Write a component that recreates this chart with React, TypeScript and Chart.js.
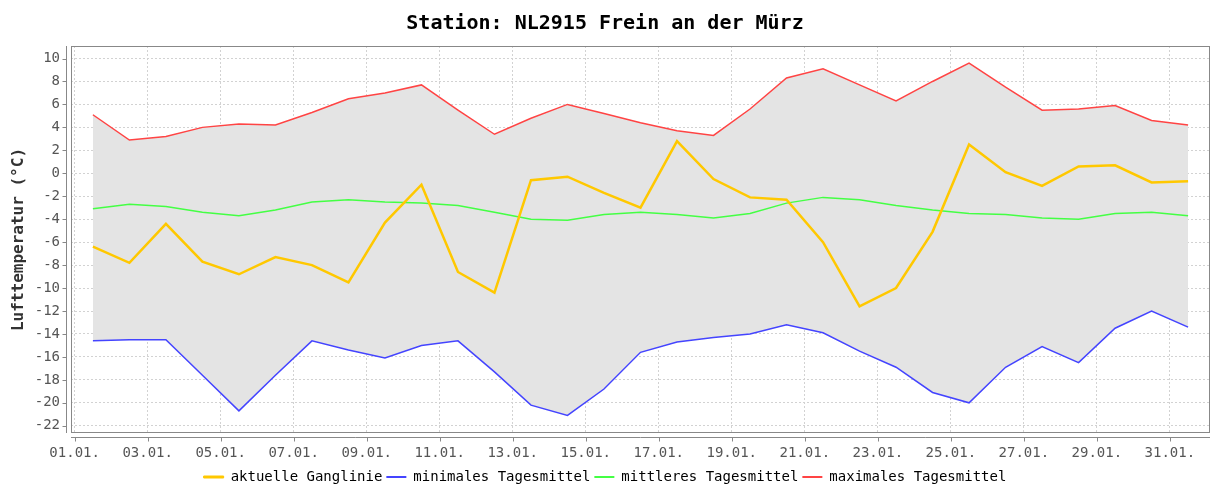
import React, { useEffect, useRef } from 'react';
import { Chart, registerables } from 'chart.js';

Chart.register(...registerables);

const days = [
  '01.01.', '02.01.', '03.01.', '04.01.', '05.01.', '06.01.', '07.01.', '08.01.', '09.01.', '10.01.',
  '11.01.', '12.01.', '13.01.', '14.01.', '15.01.', '16.01.', '17.01.', '18.01.', '19.01.', '20.01.',
  '21.01.', '22.01.', '23.01.', '24.01.', '25.01.', '26.01.', '27.01.', '28.01.', '29.01.', '30.01.', '31.01.',
];
const xTickLabels = ['01.01.', '03.01.', '05.01.', '07.01.', '09.01.', '11.01.', '13.01.', '15.01.', '17.01.', '19.01.', '21.01.', '23.01.', '25.01.', '27.01.', '29.01.', '31.01.'];
const yTicks = [-22, -20, -18, -16, -14, -12, -10, -8, -6, -4, -2, 0, 2, 4, 6, 8, 10];

const aktuelle = [-6.4, -7.8, -4.4, -7.7, -8.8, -7.3, -8.0, -9.5, -4.3, -1.0, -8.6, -10.4, -0.6, -0.3, -1.7, -3.0, 2.8, -0.5, -2.1, -2.3, -6.0, -11.6, -10.0, -5.1, 2.5, 0.1, -1.1, 0.6, 0.7, -0.8, -0.7];
const minimal = [-14.6, -14.5, -14.5, -17.6, -20.7, -17.6, -14.6, -15.4, -16.1, -15.0, -14.6, -17.3, -20.2, -21.1, -18.8, -15.6, -14.7, -14.3, -14.0, -13.2, -13.9, -15.5, -16.9, -19.1, -20.0, -16.9, -15.1, -16.5, -13.5, -12.0, -13.4];
const mittleres = [-3.1, -2.7, -2.9, -3.4, -3.7, -3.2, -2.5, -2.3, -2.5, -2.6, -2.8, -3.4, -4.0, -4.1, -3.6, -3.4, -3.6, -3.9, -3.5, -2.6, -2.1, -2.3, -2.8, -3.2, -3.5, -3.6, -3.9, -4.0, -3.5, -3.4, -3.7];
const maximal = [5.1, 2.9, 3.2, 4.0, 4.3, 4.2, 5.3, 6.5, 7.0, 7.7, 5.5, 3.4, 4.8, 6.0, 5.2, 4.4, 3.7, 3.3, 5.6, 8.3, 9.1, 7.7, 6.3, 8.0, 9.6, 7.5, 5.5, 5.6, 5.9, 4.6, 4.2];

const seriesNames = ['aktuelle Ganglinie', 'minimales Tagesmittel', 'mittleres Tagesmittel', 'maximales Tagesmittel'];
const seriesColors = ['#ffc800', '#4444ff', '#44ff44', '#ff4444'];

const MONO = "'DejaVu Sans Mono', monospace";

const toPoints = (vals: number[]) => vals.map((v, i) => ({ x: days.indexOf(days[i]) + 0.5, y: v }));

const framePlugin = {
  id: 'frame',
  afterDraw(chart: any) {
    const { ctx, chartArea } = chart;
    const { left, right, top, bottom } = chartArea;
    ctx.save();
    ctx.strokeStyle = '#888888';
    ctx.lineWidth = 1;
    ctx.setLineDash([]);
    ctx.strokeRect(left + 0.5, top + 0.5, right - left - 1, bottom - top - 1);
    const ax = left - 5 + 0.5;
    ctx.beginPath();
    ctx.moveTo(ax, top);
    ctx.lineTo(ax, bottom);
    ctx.stroke();
    const ay = bottom + 5 - 0.5;
    ctx.beginPath();
    ctx.moveTo(left, ay);
    ctx.lineTo(right, ay);
    ctx.stroke();
    const ys = chart.scales.y;
    ys.ticks.forEach((t: any) => {
      const py = Math.round(ys.getPixelForValue(t.value)) + 0.5;
      ctx.beginPath();
      ctx.moveTo(ax - 4, py);
      ctx.lineTo(ax, py);
      ctx.stroke();
    });
    const xs = chart.scales.x;
    xs.ticks.forEach((t: any) => {
      const px = Math.round(xs.getPixelForValue(t.value)) + 0.5;
      ctx.beginPath();
      ctx.moveTo(px, ay);
      ctx.lineTo(px, ay + 4);
      ctx.stroke();
    });
    ctx.restore();
  },
};

export default function App() {
  const ref = useRef<HTMLCanvasElement | null>(null);

  useEffect(() => {
    document.body.style.margin = '0';
    const canvas = ref.current;
    if (!canvas) return;
    const chart = new Chart(canvas, {
      type: 'line',
      data: {
        datasets: [
          { label: seriesNames[0], data: toPoints(aktuelle), borderColor: seriesColors[0], backgroundColor: seriesColors[0], borderWidth: 2.5, fill: false },
          { label: seriesNames[1], data: toPoints(minimal), borderColor: seriesColors[1], backgroundColor: seriesColors[1], borderWidth: 1.5, fill: false },
          { label: seriesNames[2], data: toPoints(mittleres), borderColor: seriesColors[2], backgroundColor: seriesColors[2], borderWidth: 1.5, fill: false },
          { label: seriesNames[3], data: toPoints(maximal), borderColor: seriesColors[3], backgroundColor: '#e4e4e4', borderWidth: 1.5, fill: { target: 1 } },
        ],
      },
      options: {
        responsive: false,
        animation: false,
        devicePixelRatio: 1,
        parsing: false,
        normalized: true,
        elements: { point: { radius: 0, hoverRadius: 0 }, line: { tension: 0 } },
        layout: { padding: { left: 0, right: 2, top: 0, bottom: -7 } },
        plugins: {
          filler: { drawTime: 'beforeDatasetsDraw' },
          tooltip: { enabled: false },
          title: {
            display: true,
            text: 'Station: NL2915 Frein an der Mürz',
            color: '#000000',
            font: { family: MONO, size: 20, weight: 'bold' },
            padding: { top: 12, bottom: 10 },
          },
          legend: {
            display: true,
            position: 'bottom',
            labels: {
              boxWidth: 20,
              boxHeight: 2,
              padding: 4,
              color: '#333333',
              font: { family: MONO, size: 14 },
              generateLabels: () =>
                seriesNames.map((name, i) => ({
                  text: name,
                  fillStyle: seriesColors[i],
                  strokeStyle: seriesColors[i],
                  lineWidth: i === 0 ? 1 : 0,
                  hidden: false,
                  datasetIndex: i,
                })),
            },
          },
        },
        scales: {
          x: {
            type: 'linear',
            min: -0.1,
            max: 31.1,
            afterBuildTicks: (scale: any) => {
              scale.ticks = xTickLabels.map((_, i) => ({ value: i * 2 }));
            },
            afterFit: (scale: any) => {
              scale.height = 33;
            },
            ticks: {
              autoSkip: false,
              maxRotation: 0,
              padding: 12,
              color: '#555555',
              font: { family: MONO, size: 14 },
              callback: (_v: any, i: number) => xTickLabels[i],
            },
            grid: { color: '#d2d2d2', lineWidth: 1, drawTicks: false },
            border: { display: false, dash: [2, 2] },
          },
          y: {
            type: 'linear',
            min: -22.63,
            max: 11.09,
            afterBuildTicks: (scale: any) => {
              scale.ticks = yTicks.map((v) => ({ value: v }));
            },
            afterFit: (scale: any) => {
              scale.width = 71;
            },
            ticks: {
              padding: 11,
              color: '#555555',
              font: { family: MONO, size: 14 },
              callback: (v: any) => String(v),
            },
            grid: { color: '#d2d2d2', lineWidth: 1, drawTicks: false },
            border: { display: false, dash: [2, 2] },
            title: {
              display: true,
              text: 'Lufttemperatur (°C)',
              color: '#333333',
              font: { family: MONO, size: 16, weight: 'bold' },
              padding: { top: 9, bottom: 0 },
            },
          },
        },
      },
      plugins: [framePlugin],
    } as any);
    return () => chart.destroy();
  }, []);

  return <canvas ref={ref} width={1212} height={487} style={{ display: 'block' }} />;
}
